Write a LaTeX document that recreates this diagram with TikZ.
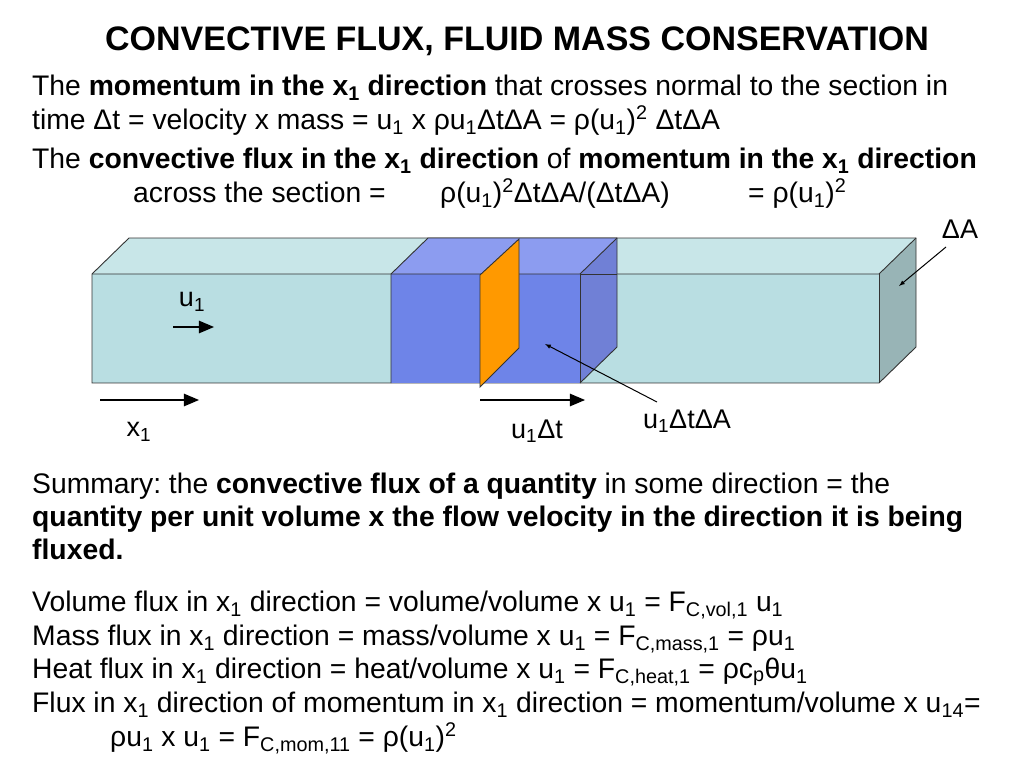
\documentclass[tikz,border=0pt]{standalone}
\usepackage{fontspec}
\setmainfont{Liberation Sans}
\usepackage{xcolor}
\usetikzlibrary{positioning}
\usetikzlibrary{arrows}
\usetikzlibrary{calc}
\frenchspacing

\definecolor{tubefront}{RGB}{185,222,226}
\definecolor{tubetop}{RGB}{200,230,232}
\definecolor{tubeend}{RGB}{152,180,182}
\definecolor{slabfront}{RGB}{110,132,232}
\definecolor{slabtop}{RGB}{140,156,240}
\definecolor{slabside}{RGB}{112,128,214}
\definecolor{section}{RGB}{255,153,0}

\tikzset{
  body/.style={anchor=base west, inner sep=0pt, font=\fontsize{28.3}{32}\selectfont},
  lbl/.style={inner sep=0pt, font=\fontsize{27}{31}\selectfont},
  edge/.style={draw=black!80, line width=0.9pt},
  flow/.style={line width=2.6pt, -triangle 45},
  pointer/.style={line width=1pt, -latex}
}

\begin{document}
\begin{tikzpicture}[x=1pt,y=-1pt]
\newcommand\dnidx[1]{\textsubscript{#1}}
\newcommand\upidx[1]{\textsuperscript{#1}}
\useasboundingbox (0,0) rectangle (1024,768);
\fill [white] (0,0) rectangle (1024,768);

\node [anchor=base, inner sep=0pt, font=\fontsize{34}{38}\selectfont\bfseries] (title) at (517,51) {CONVECTIVE FLUX, FLUID MASS CONSERVATION};

\node [body] (l1) at (32,95) {The \textbf{momentum in the x\dnidx{1} direction} that crosses normal to the section in};
\node [body] (l2) at (32,129) {time Δt = velocity x mass = u\dnidx{1} x ρu\dnidx{1}ΔtΔA = ρ(u\dnidx{1})\upidx{2} ΔtΔA};
\node [body] (l3) at (32,168) {The \textbf{convective flux in the x\dnidx{1} direction} of \textbf{momentum in the x\dnidx{1} direction}};
\node [body] (l4a) at (133,202) {across the section =};
\node [body] (l4b) at (440,202) {ρ(u\dnidx{1})\upidx{2}ΔtΔA/(ΔtΔA)};
\node [body] (l4c) at (748,202) {= ρ(u\dnidx{1})\upidx{2}};

% tube
\fill [tubetop] (92,274) -- (129,238) -- (916,238) -- (879,274) -- cycle;
\fill [tubefront] (92,274) rectangle (879,383);
\fill [tubeend] (879,274) -- (916,238) -- (916,347) -- (879,383) -- cycle;
\draw [edge] (92,274) -- (129,238) -- (916,238) -- (916,347) -- (879,383) -- (92,383) -- cycle;
\draw [edge] (92,274) -- (879,274) -- (916,238);
\draw [edge] (879,274) -- (879,383);

% control volume
\fill [slabtop] (391,274) -- (428,238) -- (617,238) -- (580,274) -- cycle;
\fill [slabfront] (391,274) rectangle (580,383);
\fill [slabside] (580,274) -- (617,238) -- (617,347) -- (580,383) -- cycle;
\draw [edge] (391,383) -- (391,274) -- (428,238) -- (617,238) -- (617,347) -- (580,383);
\draw [edge] (391,274) -- (580,274) -- (617,238);
\draw [edge] (580,274) -- (580,383);
\draw [edge] (580,274) -- (617,274);

% section
\filldraw [fill=section, edge] (480,387) -- (480,275) -- (519,239) -- (519,348) -- cycle;

% arrows
\coordinate (u0) at (173,327);
\coordinate (u1) at (214,327);
\coordinate (x0) at (100,400);
\coordinate (x1) at (199,400);
\coordinate (d0) at (480,400);
\coordinate (d1) at (585,400);
\draw [flow] (u0) -- (u1);
\draw [flow] (x0) -- (x1);
\draw [flow] (d0) -- (d1);

\node [lbl] (ulbl) at (192,302) {u\dnidx{1}};
\node [lbl] (xlbl) at (139,432) {x\dnidx{1}};
\node [lbl] (dlbl) at (537,431) {u\dnidx{1}Δt};
\node [lbl] (vlbl) at (687,421) {u\dnidx{1}ΔtΔA};
\node [lbl] (albl) at (960,229) {ΔA};

\coordinate (vtip) at (545,344);
\coordinate (atip) at (899,286);
\coordinate (vtail) at (657,402);
\coordinate (atail) at (946,247);
\draw [pointer] (vtail) -- (vtip);
\draw [pointer] (atail) -- (atip);

\node [body] (s1) at (32,493) {Summary: the \textbf{convective flux of a quantity} in some direction = the};
\node [body, font=\fontsize{28.3}{32}\selectfont\bfseries] (s2) at (32,526) {quantity per unit volume x the flow velocity in the direction it is being};
\node [body, font=\fontsize{28.3}{32}\selectfont\bfseries] (s3) at (32,559) {fluxed.};

\node [body] (f1) at (32,611) {Volume flux in x\dnidx{1} direction = volume/volume x u\dnidx{1} = F\dnidx{C,vol,1} u\dnidx{1}};
\node [body] (f2) at (32,645) {Mass flux in x\dnidx{1} direction = mass/volume x u\dnidx{1} = F\dnidx{C,mass,1} = ρu\dnidx{1}};
\node [body] (f3) at (32,678) {Heat flux in x\dnidx{1} direction = heat/volume x u\dnidx{1} = F\dnidx{C,heat,1} = ρc\dnidx{p}θu\dnidx{1}};
\node [body] (f4) at (32,712) {Flux in x\dnidx{1} direction of momentum in x\dnidx{1} direction = momentum/volume x u\dnidx{14}=};
\node [body] (f5) at (110,746) {ρu\dnidx{1} x u\dnidx{1} = F\dnidx{C,mom,11} = ρ(u\dnidx{1})\upidx{2}};
\end{tikzpicture}
\end{document}
